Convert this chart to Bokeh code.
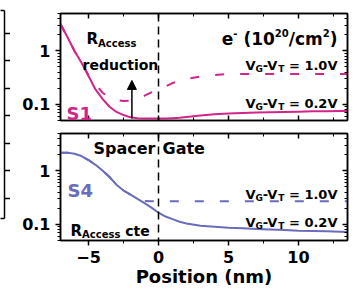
import math
from bokeh.plotting import figure
from bokeh.layouts import column, row
from bokeh.models import (LinearAxis, LogAxis, Range1d, SingleIntervalTicker, LogTicker,
                          CustomJSTickFormatter, Span, Label, Arrow, NormalHead)
from bokeh.embed import file_html
from bokeh.resources import INLINE

# ---------------- data ----------------
position = [-7, -6.5, -6, -5.5, -5, -4.5, -4, -3.5, -3, -2.5, -2, -1.5, -1, -0.5, 0,
            0.5, 1, 1.5, 2, 3, 4, 5, 6, 7, 8, 9, 10, 11, 12, 13, 13.5]

s1_vg02 = [3.2, 1.8, 1.0, 0.6, 0.34, 0.19, 0.127, 0.09, 0.072, 0.063, 0.057, 0.055, 0.054,
           0.054, 0.054, 0.054, 0.055, 0.056, 0.058, 0.062, 0.065, 0.067, 0.069, 0.070,
           0.071, 0.072, 0.073, 0.074, 0.074, 0.075, 0.075]
s1_vg10 = [3.2, 1.8, 1.0, 0.6, 0.35, 0.24, 0.165, 0.135, 0.12, 0.115, 0.118, 0.128, 0.145,
           0.168, 0.19, 0.215, 0.25, 0.275, 0.30, 0.33, 0.355, 0.368, 0.37, 0.37, 0.37,
           0.37, 0.37, 0.37, 0.37, 0.37, 0.37]

s4_vg02 = [2.2, 2.2, 2.1, 1.9, 1.6, 1.3, 1.02, 0.77, 0.55, 0.43, 0.36, 0.30, 0.25, 0.205,
           0.165, 0.14, 0.125, 0.112, 0.104, 0.094, 0.09, 0.086, 0.084, 0.082, 0.08,
           0.078, 0.076, 0.075, 0.074, 0.073, 0.072]
s4_vg10 = [2.2, 2.2, 2.1, 1.9, 1.6, 1.3, 1.02, 0.77, 0.55, 0.43, 0.36, 0.30, 0.275, 0.27,
           0.27, 0.27, 0.27, 0.27, 0.27, 0.27, 0.27, 0.27, 0.27, 0.27, 0.27, 0.27, 0.27,
           0.27, 0.27, 0.27, 0.27]

arrow_x = -1.9
arrow_from = 0.054
arrow_to = 0.28

x_range = (-7, 13.5)
y_range = (0.0498, 5.02)
frag_y_range = (-0.73, 6.83)   # neighbouring (cut-off) panel at the left edge

MAGENTA = "#d1258a"
BLUE = "#6b6bbd"
FONT = "DejaVu Sans"

# DejaVu Sans Bold advance widths (em)
W = {' ': .348, '(': .457, ')': .457, '-': .414, '.': .381, '/': .365, '=': .838,
     'A': .774, 'C': .734, 'G': .820, 'P': .733, 'R': .770, 'S': .720, 'T': .682, 'V': .774,
     'a': .675, 'c': .593, 'd': .716, 'e': .678, 'i': .343, 'm': 1.042, 'n': .712,
     'o': .687, 'p': .716, 'r': .493, 's': .595, 't': .478, 'u': .712}
for d in "0123456789":
    W[d] = .696


def tw(t, s):
    return sum(W.get(c, .6) for c in t) * s


PANEL_PX = [(13, 120), (133, 240)]   # frame top/bottom in picture px
FRAME_X = (60, 347)


def px2data(px, py, panel):
    t, b = PANEL_PX[panel]
    x = x_range[0] + (px - FRAME_X[0]) / (FRAME_X[1] - FRAME_X[0]) * (x_range[1] - x_range[0])
    l0, l1 = math.log10(y_range[0]), math.log10(y_range[1])
    ly = l1 - (py - t) / (b - t) * (l1 - l0)
    return x, 10 ** ly


def rich(p, panel, runs, px, base, align="left", color="black"):
    total = sum(tw(t, s) for t, s, dy in runs)
    cur = px if align == "left" else px - total
    for t, s, dy in runs:
        lead = len(t) - len(t.lstrip())
        cur += tw(t[:lead], s)
        core = t.strip()
        x, y = px2data(cur, base - dy, panel)
        p.add_layout(Label(x=x, y=y, text=core, text_font=FONT, text_font_style="bold",
                           text_font_size=f"{s}px", text_color=color,
                           text_baseline="alphabetic", text_align="left"))
        cur += tw(core, s) + tw(t[len(t.rstrip()):], s)


def hide_labels(ax):
    ax.formatter = CustomJSTickFormatter(code="return ''")
    ax.major_label_text_font_size = "1px"
    ax.major_label_text_color = None
    ax.major_label_standoff = 0


def style_axis(ax, inner, labels):
    ax.axis_line_width = 1.5
    ax.axis_line_color = "black"
    ax.major_tick_line_width = 1.5
    ax.minor_tick_line_width = 1
    ax.major_tick_line_color = "black"
    ax.minor_tick_line_color = "black"
    if inner:
        ax.major_tick_in, ax.major_tick_out = 5, 0
        ax.minor_tick_in, ax.minor_tick_out = 3, 0
    else:
        ax.major_tick_in, ax.major_tick_out = 0, 5
        ax.minor_tick_in, ax.minor_tick_out = 0, 3
    if labels:
        ax.major_label_text_font = FONT
        ax.major_label_text_font_style = "bold"
        ax.major_label_text_font_size = "16px"
        ax.major_label_text_color = "black"
    else:
        hide_labels(ax)


def make_fig(h, bt, bb, bottom_labels):
    p = figure(width=350, height=h, x_range=Range1d(*x_range), y_range=Range1d(*y_range),
               y_axis_type="log", output_backend="svg", toolbar_location=None,
               x_axis_location=None, y_axis_location=None,
               min_border_left=50, min_border_right=13, min_border_top=bt, min_border_bottom=bb)
    p.grid.visible = False
    p.outline_line_color = "black"
    p.outline_line_width = 1.5
    p.background_fill_color = "white"
    p.border_fill_color = "white"

    left = LogAxis(ticker=LogTicker(num_minor_ticks=10),
                   formatter=CustomJSTickFormatter(code="return String(Number(tick.toPrecision(3)))"))
    style_axis(left, False, True)
    left.major_label_standoff = 5
    left.major_label_text_align = "right"
    p.add_layout(left, "left")

    right = LogAxis(ticker=LogTicker(num_minor_ticks=10))
    style_axis(right, True, False)
    p.add_layout(right, "right")

    top = LinearAxis(ticker=SingleIntervalTicker(interval=5, num_minor_ticks=2))
    style_axis(top, True, False)
    p.add_layout(top, "above")

    bot = LinearAxis(ticker=SingleIntervalTicker(interval=5, num_minor_ticks=2))
    if bottom_labels:
        style_axis(bot, False, True)
        bot.major_label_standoff = 5
        bot.axis_label = "Position (nm)"
        bot.axis_label_text_font = FONT
        bot.axis_label_text_font_style = "bold"
        bot.axis_label_text_font_size = "18px"
        bot.axis_label_text_color = "black"
        bot.axis_label_standoff = 0
    else:
        style_axis(bot, True, False)
    p.add_layout(bot, "below")

    p.add_layout(Span(location=0, dimension="height", line_color="black",
                      line_width=1.5, line_dash="8 5"))
    return p


# ---------------- cut-off neighbouring panel (left edge) ----------------
frag = figure(width=10, height=290, x_range=Range1d(0, 1), y_range=Range1d(*frag_y_range),
              output_backend="svg", toolbar_location=None,
              x_axis_location=None, y_axis_location=None,
              min_border_left=0, min_border_right=6, min_border_top=10, min_border_bottom=72)
frag.grid.visible = False
frag.outline_line_color = None
frag.border_fill_color = "white"
fr = LinearAxis(ticker=SingleIntervalTicker(interval=1, num_minor_ticks=0))
style_axis(fr, False, False)
fr.major_tick_out = 6
frag.add_layout(fr, "right")
for side in ("above", "below"):
    fa = LinearAxis(ticker=SingleIntervalTicker(interval=1, num_minor_ticks=0))
    style_axis(fa, False, False)
    fa.major_tick_out = 0
    fa.minor_tick_out = 0
    frag.add_layout(fa, side)

# ---------------- top panel: S1 ----------------
p1 = make_fig(126, 13, 6, False)
p1.line(position, s1_vg10, line_color=MAGENTA, line_width=2, line_dash="9 16")
p1.line(position, s1_vg02, line_color=MAGENTA, line_width=2)
p1.add_layout(Arrow(end=NormalHead(size=9, fill_color="black", line_color="black"),
                    x_start=arrow_x, y_start=arrow_from, x_end=arrow_x, y_end=arrow_to,
                    line_color="black", line_width=1.5))

rich(p1, 0, [("R", 15, 0), ("Access", 10, -5)], 86, 38)
rich(p1, 0, [("reduction", 14, 0)], 82, 64)
rich(p1, 0, [("e", 17, 0), ("-", 10, 6), (" (10", 17, 0), ("20", 10, 6), ("/cm", 17, 0),
             ("2", 10, 6), (")", 17, 0)], 337, 38, align="right")
rich(p1, 0, [("V", 13, 0), ("G", 9, -3.5), ("-V", 13, 0), ("T", 9, -3.5), (" = 1.0V", 13, 0)],
     337, 65, align="right")
rich(p1, 0, [("V", 13, 0), ("G", 9, -3.5), ("-V", 13, 0), ("T", 9, -3.5), (" = 0.2V", 13, 0)],
     337, 103, align="right")
rich(p1, 0, [("S1", 18, 0)], 66, 113, color=MAGENTA)

# ---------------- bottom panel: S4 ----------------
p2 = make_fig(164, 7, 50, True)
p2.line(position, s4_vg10, line_color=BLUE, line_width=2, line_dash="9 16")
p2.line(position, s4_vg02, line_color=BLUE, line_width=2)

rich(p2, 1, [("Spacer", 16, 0)], 155, 148, align="right")
rich(p2, 1, [("Gate", 16, 0)], 162, 148)
rich(p2, 1, [("S4", 18, 0)], 67, 190, color=BLUE)
rich(p2, 1, [("R", 15, 0), ("Access", 10, -4), (" cte", 14, 0)], 70, 230)
rich(p2, 1, [("V", 13, 0), ("G", 9, -3.5), ("-V", 13, 0), ("T", 9, -3.5), (" = 1.0V", 13, 0)],
     337, 194, align="right")
rich(p2, 1, [("V", 13, 0), ("G", 9, -3.5), ("-V", 13, 0), ("T", 9, -3.5), (" = 0.2V", 13, 0)],
     337, 222, align="right")

layout = row(frag, column(p1, p2, spacing=0), spacing=0)
open("out.html", "w").write(file_html(layout, INLINE))
